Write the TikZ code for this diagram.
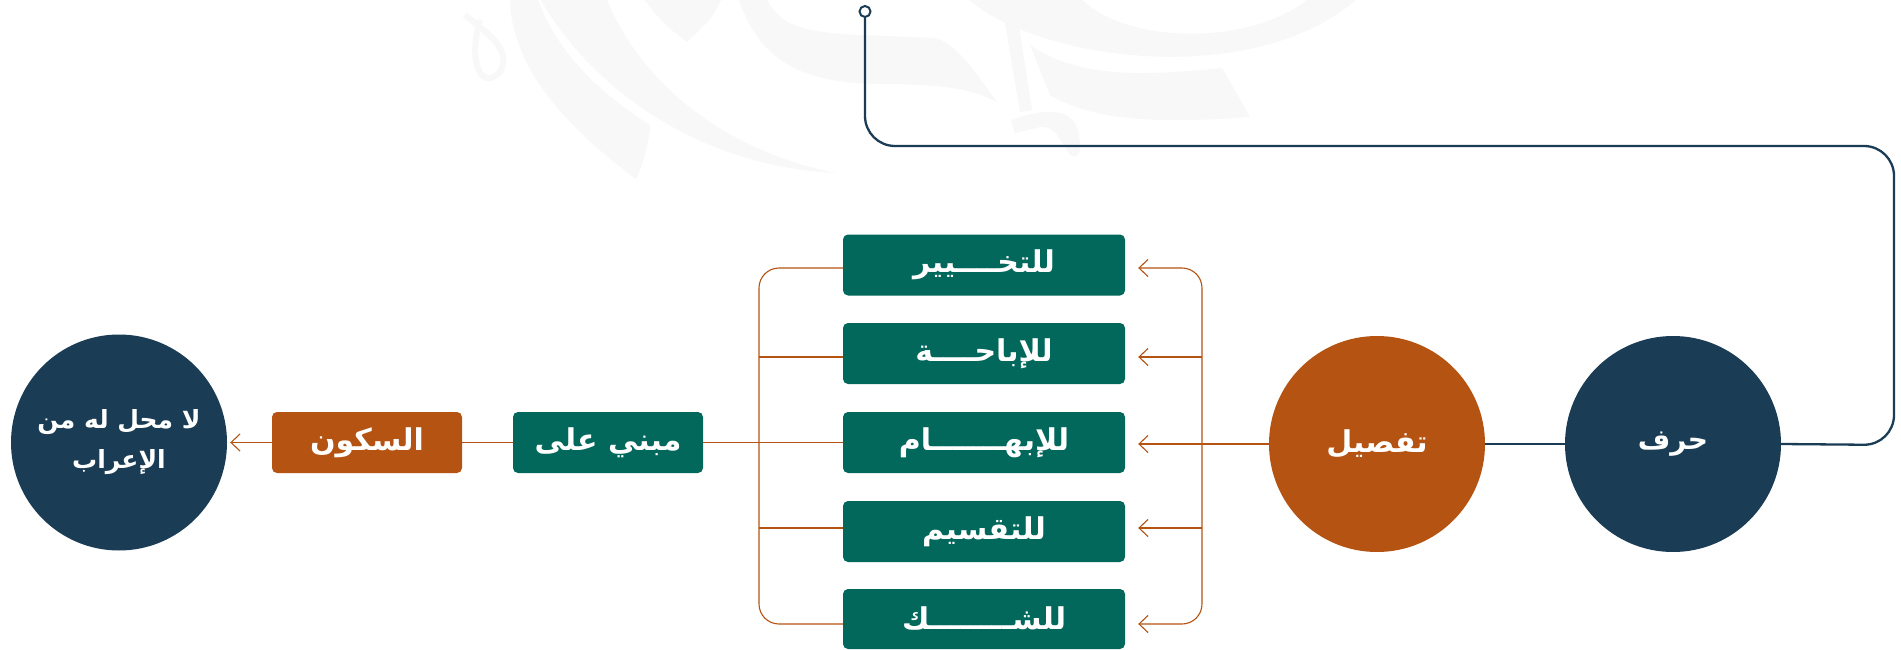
\documentclass[tikz,border=0pt]{standalone}
\usepackage{fontspec}
\usetikzlibrary{arrows.meta,calc}
\TeXXeTstate=1
\newfontfamily\arabicfont[Script=Arabic]{DejaVu Sans}
\definecolor{navy}{RGB}{27,60,85}
\definecolor{teal}{RGB}{3,104,92}
\definecolor{orng}{RGB}{180,83,18}
\definecolor{wm}{RGB}{248,248,248}
\tikzset{
  roundnode/.style={circle, minimum size=216pt, inner sep=0pt, text=white, align=center, font=\arabicfont\bfseries\fontsize{28}{40}\selectfont},
  boxnode/.style={rectangle, rounded corners=5pt, minimum height=61pt, inner sep=0pt, text=white, font=\arabicfont\bfseries\fontsize{30}{34}\selectfont},
  oline/.style={draw=orng, line width=1.1pt},
  barb/.tip={Straight Barb[length=9pt, width=17pt, line width=1.1pt]},
  nline/.style={draw=navy, line width=2.3pt}
}
\begin{document}
\begin{tikzpicture}[x=1pt,y=-1pt]
\useasboundingbox (0,0) rectangle (1901,650);
\fill[white] (0,0) rectangle (1901,650);
% faint calligraphy watermark
\fill[wm] (510,0) .. controls (512,70) and (570,130) .. (636,179) .. controls (645,160) and (650,135) .. (650,125) .. controls (610,100) and (560,60) .. (538,0) -- cycle;
\fill[wm] (541,0) .. controls (580,70) and (680,165) .. (836,173) .. controls (720,150) and (640,80) .. (607,0) -- cycle;
\fill[wm] (644,0) -- (721,0) .. controls (712,18) .. (687,42) .. controls (665,25) .. cycle;
\fill[wm] (739,0) -- (767,0) .. controls (780,25) and (800,32) .. (860,35) -- (935,38) .. controls (960,45) and (980,80) .. (997,102) .. controls (970,88) and (940,84) .. (880,84) .. controls (800,83) and (760,60) .. cycle;
\fill[wm] (969,0) .. controls (1040,60) and (1250,90) .. (1356,0) -- (1307,0) .. controls (1250,45) and (1130,45) .. (1082,0) -- cycle;
\fill[wm] (1030,45) .. controls (1080,80) and (1150,75) .. (1222,68) -- (1250,117) .. controls (1180,122) and (1100,125) .. (1050,95) -- cycle;
\fill[wm] (1004,17) -- (1018,20) -- (1032,110) -- (1020,112) -- cycle;
\fill[wm] (1011,120) .. controls (1040,110) and (1070,105) .. (1078,130) .. controls (1082,150) and (1080,160) .. (1070,155) .. controls (1060,140) and (1055,125) .. (1040,127) -- (1015,133) -- cycle;
\draw[wm, line width=6pt] (480,20) .. controls (468,60) and (480,92) .. (500,72) .. controls (512,50) and (490,35) .. (465,15);

% nodes
\node[roundnode, fill=navy, font=\arabicfont\bfseries\fontsize{25}{40}\selectfont] (irab) at (119,442.5) {\beginR لا محل له من\endR\\\beginR الإعراب\endR};
\node[boxnode, fill=orng, minimum width=190pt] (sukun) at (367,442.5) {\beginR السكون\endR};
\node[boxnode, fill=teal, minimum width=190pt] (mabni) at (608,442.5) {\beginR مبني على\endR};
\node[boxnode, fill=teal, minimum width=282pt] (b1) at (984,265) {\beginR للتخــــيير\endR};
\node[boxnode, fill=teal, minimum width=282pt] (b2) at (984,353.5) {\beginR للإباحــــة\endR};
\node[boxnode, fill=teal, minimum width=282pt] (b3) at (984,442.5) {\beginR للإبهـــــــام\endR};
\node[boxnode, fill=teal, minimum width=282pt] (b4) at (984,531.5) {\beginR للتقسيم\endR};
\node[boxnode, fill=teal, minimum width=282pt, minimum height=60pt] (b5) at (984,619) {\beginR للشــــــــك\endR};
\node[roundnode, fill=orng, font=\arabicfont\bfseries\fontsize{30}{40}\selectfont] (tafsil) at (1377,444) {\beginR تفصيل\endR};
\node[roundnode, fill=navy] (harf) at (1673,444) {\beginR حرف\endR};
\node[circle, draw=navy, fill=white, line width=2pt, minimum size=11pt, inner sep=0pt] (dot) at (865,11.5) {};

% navy connectors
\draw[nline] (tafsil.east) -- (harf.west);
\draw[nline, rounded corners=30pt] (harf.east) -- (1894,445) -- (1894,146) -- (865,146) -- (dot.south);

% left side
\draw[oline, -{barb}, shorten >=3pt] (sukun.west) -- (irab.east);
\draw[oline] (mabni.west) -- (sukun.east);
\draw[oline] (mabni.east) -- (b3.west);
\coordinate (lt) at (759,268);
\coordinate (lb) at (759,624);
\draw[oline, rounded corners=20pt] (b1.west |- lt) -- (lt) -- (lb) -- (b5.west |- lb);
\draw[oline] (lt |- 0,357) -- (b2.west |- 0,357);
\draw[oline] (lt |- 0,528) -- (b4.west |- 0,528);

% right side
\coordinate (rt) at (1202,268);
\coordinate (rb) at (1202,624);
\coordinate (a1) at ($(b1.east |- rt)+(13,0)$);
\coordinate (a5) at ($(b5.east |- rb)+(13,0)$);
\draw[oline, rounded corners=20pt, {barb}-{barb}] (a1) -- (rt) -- (rb) -- (a5);
\draw[oline, -{barb}] (rt |- 0,357) -- ($(b2.east |- 0,357)+(13,0)$);
\draw[oline, -{barb}] (rt |- 0,528) -- ($(b4.east |- 0,528)+(13,0)$);
\draw[oline, -{barb}] (tafsil.west) -- ($(b3.east |- tafsil.west)+(13,0)$);
\end{tikzpicture}
\end{document}
